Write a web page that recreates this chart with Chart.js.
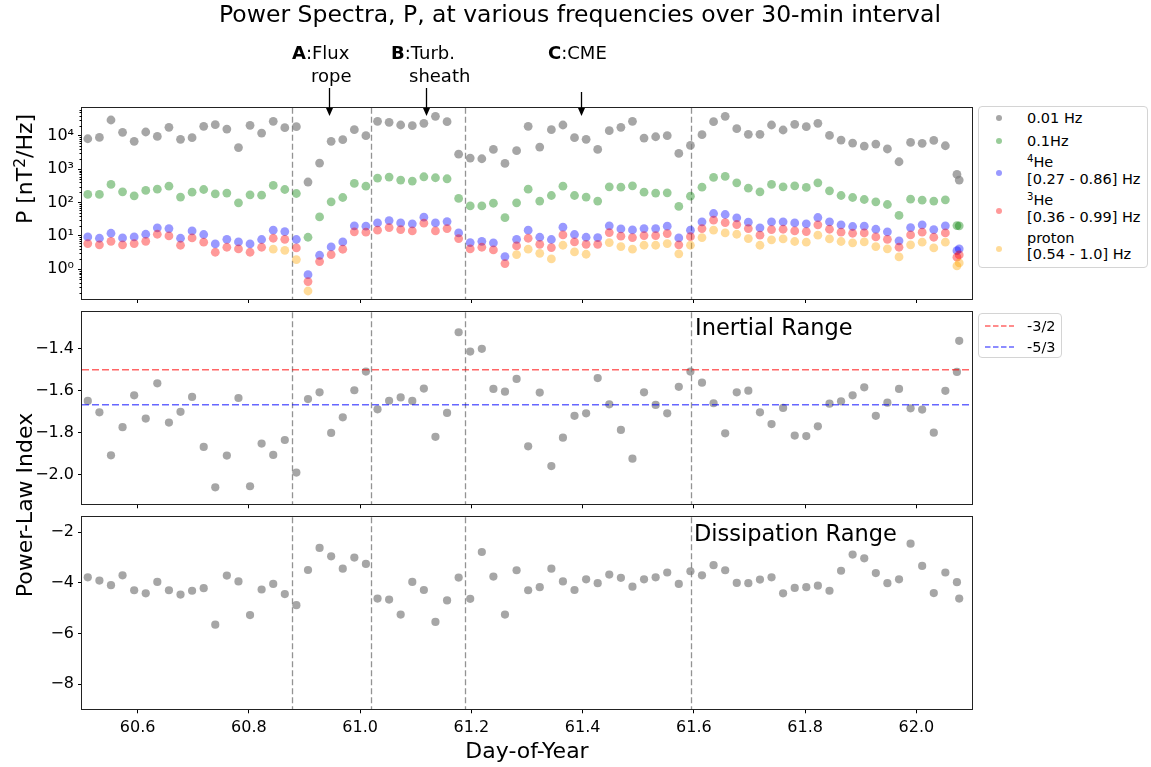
<!DOCTYPE html>
<html><head><meta charset="utf-8">
<script src="https://cdn.jsdelivr.net/npm/chart.js@4/dist/chart.umd.min.js"></script>
<style>
body{margin:0;background:#fff;width:1151px;height:767px;overflow:hidden;position:relative;font-family:"DejaVu Sans",sans-serif;color:#000}
.abs{position:absolute;white-space:nowrap;line-height:1}
canvas{position:absolute;left:0}
.sup{font-size:0.7em;position:relative;top:-0.45em}
.lgbox{position:absolute;border:1px solid #d4d4d4;border-radius:4px;box-sizing:border-box;background:#fff}
.mk{position:absolute;width:6px;height:6px;border-radius:50%}
.lt{position:absolute;font-size:14.5px;line-height:1;white-space:nowrap}
</style></head><body>
<canvas id="c1" width="1151" height="310" style="top:0"></canvas>
<canvas id="c2" width="1151" height="210" style="top:300px"></canvas>
<canvas id="c3" width="1151" height="257" style="top:510px"></canvas>

<div class="abs" style="left:580px;top:3px;transform:translateX(-50%);font-size:23.5px">Power Spectra, P, at various frequencies over 30-min interval</div>

<div class="abs" style="left:292px;top:44px;font-size:18px"><b>A</b>:Flux</div>
<div class="abs" style="left:311px;top:67px;font-size:18px">rope</div>
<div class="abs" style="left:391px;top:44px;font-size:18px"><b>B</b>:Turb.</div>
<div class="abs" style="left:409px;top:67px;font-size:18px">sheath</div>
<div class="abs" style="left:548px;top:44px;font-size:18px"><b>C</b>:CME</div>

<div class="abs" style="left:25px;top:169px;transform:translate(-50%,-50%) rotate(-90deg);font-size:22px">P [nT<span class="sup">2</span>/Hz]</div>
<div class="abs" style="left:25px;top:505px;transform:translate(-50%,-50%) rotate(-90deg);font-size:22px">Power-Law Index</div>
<div class="abs" style="left:527px;top:740px;transform:translateX(-50%);font-size:22px">Day-of-Year</div>

<div class="abs" style="left:695px;top:316px;font-size:22.5px">Inertial Range</div>
<div class="abs" style="left:694px;top:522px;font-size:22.5px">Dissipation Range</div>

<div class="lgbox" style="left:978px;top:106px;width:170px;height:162px"></div>
<div class="mk" style="left:996px;top:115px;background:rgba(128,128,128,0.7)"></div>
<div class="lt" style="left:1027px;top:111px">0.01 Hz</div>
<div class="mk" style="left:996px;top:138px;background:rgba(0,128,0,0.4)"></div>
<div class="lt" style="left:1027px;top:134px">0.1Hz</div>
<div class="mk" style="left:996px;top:170px;background:rgba(0,0,255,0.4)"></div>
<div class="lt" style="left:1027px;top:155px"><span class="sup">4</span>He</div>
<div class="lt" style="left:1027px;top:172px">[0.27 - 0.86] Hz</div>
<div class="mk" style="left:996px;top:208px;background:rgba(255,0,0,0.4)"></div>
<div class="lt" style="left:1027px;top:193px"><span class="sup">3</span>He</div>
<div class="lt" style="left:1027px;top:210px">[0.36 - 0.99] Hz</div>
<div class="mk" style="left:996px;top:246px;background:rgba(255,165,0,0.4)"></div>
<div class="lt" style="left:1027px;top:231px">proton</div>
<div class="lt" style="left:1027px;top:247px">[0.54 - 1.0] Hz</div>

<div class="lgbox" style="left:978px;top:313px;width:84px;height:45px"></div>
<svg class="abs" style="left:984px;top:320px" width="32" height="32">
  <line x1="1" y1="6" x2="30" y2="6" stroke="rgba(255,0,0,0.6)" stroke-width="1.5" stroke-dasharray="5.5,2.5"/>
  <line x1="1" y1="27" x2="30" y2="27" stroke="rgba(0,0,255,0.6)" stroke-width="1.5" stroke-dasharray="5.5,2.5"/>
</svg>
<div class="lt" style="left:1027px;top:319px">-3/2</div>
<div class="lt" style="left:1027px;top:340px">-5/3</div>

<script>
// ---- data ----
const days = [60.5104,60.5313,60.5521,60.5729,60.5938,60.6146,60.6354,60.6563,60.6771,60.6979,
60.7188,60.7396,60.7604,60.7813,60.8021,60.8229,60.8438,60.8646,60.8854,60.9063,
60.9271,60.9479,60.9688,60.9896,61.0104,61.0313,61.0521,61.0729,61.0938,61.1146,
61.1354,61.1563,61.1771,61.1979,61.2188,61.2396,61.2604,61.2813,61.3021,61.3229,
61.3438,61.3646,61.3854,61.4063,61.4271,61.4479,61.4688,61.4896,61.5104,61.5313,
61.5521,61.5729,61.5938,61.6146,61.6354,61.6563,61.6771,61.6979,61.7188,61.7396,
61.7604,61.7813,61.8021,61.8229,61.8438,61.8646,61.8854,61.9063,61.9271,61.9479,
61.9688,61.9896,62.0104,62.0313,62.0521,62.0729,62.0770];

const p001Hz = [8100,8900,29500,12600,6800,12900,9500,17800,7800,8700,
19100,21400,15800,4400,20400,12000,26900,17400,18600,410,
1510,6800,7600,15100,10000,26900,25100,20900,20000,23400,
38000,26300,2800,2140,2040,3890,1480,3550,19100,4570,
15100,20900,8700,7800,3890,14100,17800,26900,8500,9300,
10000,2950,5100,10700,26300,38000,16200,11000,11000,20900,
14800,21900,18600,23400,10200,7400,6000,4900,5600,4000,
1660,6300,5900,7200,5000,690,470];

const p01Hz = [174,174,347,209,158,229,251,309,145,204,
245,182,191,98,170,166,324,245,186,9.1,
37,105,141,372,309,537,575,468,437,589,
550,513,132,79,79,95,35,98,251,110,
162,309,162,145,110,295,288,316,204,191,
195,76,155,288,562,603,389,269,209,347,
295,316,282,389,224,162,141,123,105,87,
41,126,117,110,120,20.4,20.0];

const pHe4 = [9.3,8.5,12.0,8.7,9.3,11.2,17.4,16.6,8.5,14.1,
11.0,5.75,7.9,6.6,5.75,7.8,14.8,13.5,7.8,0.69,
2.63,4.68,6.6,20.0,19.5,24.5,28.8,24.5,22.9,36.3,
24.5,26.9,12.3,6.3,6.9,6.2,2.4,7.9,14.8,9.1,
7.8,18.2,11.0,9.1,8.9,20.0,16.2,15.1,16.6,16.6,
19.5,8.7,14.8,26.3,46.8,43.7,34.7,25.7,17.4,26.3,
26.3,24.5,22.9,35.5,26.3,21.4,19.1,19.5,15.8,13.2,
7.1,17.8,21.4,15.5,20.0,3.6,4.1];

const pHe3 = [5.9,5.4,6.9,5.4,5.9,6.9,11.2,10.0,5.25,8.7,
6.5,3.24,4.57,4.07,3.24,4.57,8.5,7.9,4.37,0.43,
1.70,2.75,3.98,13.2,12.9,14.8,17.8,15.5,14.1,24.0,
14.1,16.6,8.3,4.07,4.57,3.8,1.48,5.0,8.5,5.6,
4.47,10.7,6.6,5.6,5.6,12.6,9.8,8.9,10.2,10.2,
11.7,5.4,9.5,16.6,29.5,25.1,21.9,16.6,10.5,15.5,
15.8,14.1,13.5,21.4,15.8,12.9,12.0,12.3,9.3,7.9,
4.57,10.7,12.9,9.1,12.3,2.3,2.7];

const pProton = [null,null,null,null,null,null,null,null,null,null,
null,null,null,null,null,null,4.0,3.7,1.95,0.224,
null,null,null,null,null,null,null,null,null,null,
null,null,null,null,null,null,null,2.75,4.0,3.0,
2.04,5.25,3.31,2.82,null,6.3,4.8,4.0,5.25,5.25,
5.9,2.9,5.25,8.9,14.8,12.3,11.2,8.3,5.25,7.6,
8.1,6.8,6.5,10.5,8.1,6.8,6.2,6.6,4.8,4.1,
2.34,5.4,6.5,4.37,6.5,1.26,1.55];

const inertialIndex = [-1.649,-1.703,-1.908,-1.774,-1.622,-1.733,-1.565,-1.752,-1.701,-1.630,
-1.868,-2.060,-1.909,-1.635,-2.055,-1.852,-1.906,-1.835,-1.990,-1.640,
-1.608,-1.801,-1.727,-1.598,-1.509,-1.689,-1.648,-1.632,-1.649,-1.590,
-1.820,-1.706,-1.322,-1.414,-1.401,-1.592,-1.605,-1.544,-1.865,-1.609,
-1.959,-1.824,-1.720,-1.708,-1.540,-1.665,-1.787,-1.924,-1.608,-1.668,
-1.708,-1.582,-1.509,-1.562,-1.660,-1.803,-1.608,-1.600,-1.703,-1.759,
-1.682,-1.814,-1.816,-1.770,-1.662,-1.651,-1.622,-1.584,-1.720,-1.657,
-1.592,-1.684,-1.690,-1.800,-1.601,-1.511,-1.363];

const dissipationIndex = [-3.78,-3.91,-4.09,-3.70,-4.29,-4.41,-3.96,-4.29,-4.46,-4.31,
-4.21,-5.65,-3.71,-3.94,-5.27,-4.26,-4.04,-4.44,-4.88,-3.49,
-2.62,-2.95,-3.44,-3.00,-3.25,-4.62,-4.66,-5.25,-3.96,-4.28,
-5.54,-4.69,-3.79,-4.63,-2.78,-3.75,-5.25,-3.50,-4.29,-4.17,
-3.44,-3.94,-4.28,-3.86,-4.01,-3.67,-3.80,-4.15,-3.86,-3.78,
-3.59,-4.04,-3.54,-3.70,-3.30,-3.50,-4.00,-4.01,-3.87,-3.78,
-4.41,-4.20,-4.17,-4.11,-4.31,-3.52,-2.88,-3.03,-3.61,-4.01,
-3.86,-2.45,-3.33,-4.40,-3.59,-3.97,-4.62];

const referenceSlopes = [-3/2, -5/3];
const eventLineDays = [60.878, 61.02, 61.188, 61.594];
const eventArrowDays = [60.944, 61.119, 61.397];
const xTickValues = [60.6, 60.8, 61.0, 61.2, 61.4, 61.6, 61.8, 62.0];
const powerTickValues = [1, 10, 100, 1000, 10000];
const inertialTickValues = [-1.4, -1.6, -1.8, -2.0];
const dissipationTickValues = [-2, -4, -6, -8];

// ---- helpers ----
Chart.defaults.font.family = 'DejaVu Sans';
Chart.defaults.color = '#000';
const SUP = {'-1':'\u207B\u00B9','0':'\u2070','1':'\u00B9','2':'\u00B2','3':'\u00B3','4':'\u2074'};
const pts = arr => days.map((d,i)=>({x:d, y:arr[i]})).filter(p=>p.y!==null);

function xAxis(showLabels, h){
  return {type:'linear', min:60.5, max:62.1, position:'bottom',
    afterBuildTicks: s => { s.ticks = xTickValues.map(v=>({value:v})); },
    ticks:{display:showLabels, callback:v=>Number(v).toFixed(1), font:{size:16}, color:'#000', padding:5, maxRotation:0, autoSkip:false},
    grid:{display:true, drawOnChartArea:false, drawTicks:true, tickLength:4, tickColor:'#000', tickWidth:1},
    border:{display:false},
    afterFit: s => { s.height = h; s.paddingLeft = 0; s.paddingRight = 0; }
  };
}
function yAxis(extra){
  return Object.assign({
    ticks:{font:{size:16}, color:'#000', padding:4, autoSkip:false},
    grid:{display:true, drawOnChartArea:false, drawTicks:true, tickLength:4, tickColor:'#000', tickWidth:1},
    border:{display:false},
    afterFit: s => { s.width = 82; s.paddingTop = 0; s.paddingBottom = 0; }
  }, extra);
}
const framePlugin = {id:'frame', afterDraw(chart){
  const a = chart.chartArea, ctx = chart.ctx;
  ctx.save(); ctx.strokeStyle = '#222'; ctx.lineWidth = 1;
  ctx.strokeRect(Math.round(a.left)-0.5, Math.round(a.top)-0.5, Math.round(a.right)-Math.round(a.left)+1, Math.round(a.bottom)-Math.round(a.top)+1);
  ctx.restore();
}};
const vlinePlugin = {id:'vlines', beforeDatasetsDraw(chart){
  const x = chart.scales.x, a = chart.chartArea, ctx = chart.ctx;
  ctx.save(); ctx.strokeStyle = 'rgba(128,128,128,0.85)'; ctx.lineWidth = 1.3; ctx.setLineDash([6,3]);
  eventLineDays.forEach(d => { const px = Math.round(x.getPixelForValue(d)) + 0.5;
    ctx.beginPath(); ctx.moveTo(px, a.top); ctx.lineTo(px, a.bottom); ctx.stroke(); });
  ctx.restore();
}};
const minorLogPlugin = {id:'minorlog', afterDraw(chart){
  const y = chart.scales.y, a = chart.chartArea, ctx = chart.ctx;
  ctx.save(); ctx.strokeStyle = '#000'; ctx.lineWidth = 1;
  for (let d = -1; d <= 4; d++) for (let k = 2; k <= 9; k++) {
    const v = k * Math.pow(10, d);
    if (v < y.min || v > y.max) continue;
    const py = Math.round(y.getPixelForValue(v)) + 0.5;
    ctx.beginPath(); ctx.moveTo(a.left - 2.5, py); ctx.lineTo(a.left, py); ctx.stroke();
  }
  ctx.restore();
}};
const arrowPlugin = {id:'arrows', afterDraw(chart){
  const x = chart.scales.x, ctx = chart.ctx;
  const starts = [88, 88, 92], tip = 116;
  ctx.save(); ctx.strokeStyle = '#000'; ctx.fillStyle = '#000'; ctx.lineWidth = 1.3;
  eventArrowDays.forEach((d,i) => {
    const px = Math.round(x.getPixelForValue(d)) + 0.5;
    ctx.beginPath(); ctx.moveTo(px, starts[i]); ctx.lineTo(px, tip - 6); ctx.stroke();
    ctx.beginPath(); ctx.moveTo(px - 3.5, tip - 8); ctx.lineTo(px + 3.5, tip - 8); ctx.lineTo(px, tip); ctx.closePath(); ctx.fill();
  });
  ctx.restore();
}};

const ptStyle = (color, order) => ({backgroundColor:color, borderWidth:0, pointRadius:4.4, pointHoverRadius:4.4, order:order});
const base = {responsive:false, animation:false, events:[], plugins:{legend:{display:false}, tooltip:{enabled:false}}};

// ---- top panel ----
new Chart(document.getElementById('c1'), {
  type:'scatter',
  data:{datasets:[
    Object.assign({label:'0.01 Hz', data:pts(p001Hz)}, ptStyle('rgba(128,128,128,0.7)',5)),
    Object.assign({label:'0.1Hz', data:pts(p01Hz)}, ptStyle('rgba(0,128,0,0.4)',4)),
    Object.assign({label:'4He [0.27 - 0.86] Hz', data:pts(pHe4)}, ptStyle('rgba(0,0,255,0.4)',3)),
    Object.assign({label:'3He [0.36 - 0.99] Hz', data:pts(pHe3)}, ptStyle('rgba(255,0,0,0.4)',2)),
    Object.assign({label:'proton [0.54 - 1.0] Hz', data:pts(pProton)}, ptStyle('rgba(255,165,0,0.4)',1))
  ]},
  options:Object.assign({}, base, {
    layout:{padding:{top:107.7, left:0, right:179, bottom:0}},
    scales:{
      x:xAxis(false, 11),
      y:yAxis({type:'logarithmic', min:0.129, max:68870,
        afterBuildTicks: s => { s.ticks = powerTickValues.map(v=>({value:v, major:true})); },
        ticks:{font:{size:16}, color:'#000', padding:4, autoSkip:false, callback:v=>'10'+SUP[String(Math.round(Math.log10(v)))]}})
    }
  }),
  plugins:[framePlugin, vlinePlugin, minorLogPlugin, arrowPlugin]
});

// ---- middle panel ----
new Chart(document.getElementById('c2'), {
  type:'scatter',
  data:{datasets:[
    Object.assign({label:'inertial', data:pts(inertialIndex)}, ptStyle('rgba(128,128,128,0.7)',3), {pointRadius:4.1}),
    {type:'line', label:'-3/2', data:[{x:60.5,y:referenceSlopes[0]},{x:62.1,y:referenceSlopes[0]}], borderColor:'rgba(255,0,0,0.6)', borderWidth:1.5, borderDash:[7,3], pointRadius:0, order:1},
    {type:'line', label:'-5/3', data:[{x:60.5,y:referenceSlopes[1]},{x:62.1,y:referenceSlopes[1]}], borderColor:'rgba(0,0,255,0.6)', borderWidth:1.5, borderDash:[7,3], pointRadius:0, order:2}
  ]},
  options:Object.assign({}, base, {
    layout:{padding:{top:12.3, left:0, right:179, bottom:0}},
    scales:{
      x:xAxis(false, 5.7),
      y:yAxis({type:'linear', min:-2.141, max:-1.227,
        afterBuildTicks: s => { s.ticks = inertialTickValues.map(v=>({value:v})); },
        ticks:{font:{size:16}, color:'#000', padding:4, autoSkip:false, callback:v=>'\u2212'+Math.abs(v).toFixed(1)}})
    }
  }),
  plugins:[framePlugin, vlinePlugin]
});

// ---- bottom panel ----
new Chart(document.getElementById('c3'), {
  type:'scatter',
  data:{datasets:[
    Object.assign({label:'dissipation', data:pts(dissipationIndex)}, ptStyle('rgba(128,128,128,0.7)',1), {pointRadius:4.1})
  ]},
  options:Object.assign({}, base, {
    layout:{padding:{top:7.3, left:0, right:179, bottom:0}},
    scales:{
      x:xAxis(true, 57.7),
      y:yAxis({type:'linear', min:-8.99, max:-1.41,
        afterBuildTicks: s => { s.ticks = dissipationTickValues.map(v=>({value:v})); },
        ticks:{font:{size:16}, color:'#000', padding:4, autoSkip:false, callback:v=>'\u2212'+Math.abs(v)}})
    }
  }),
  plugins:[framePlugin, vlinePlugin]
});
</script>
</body></html>
